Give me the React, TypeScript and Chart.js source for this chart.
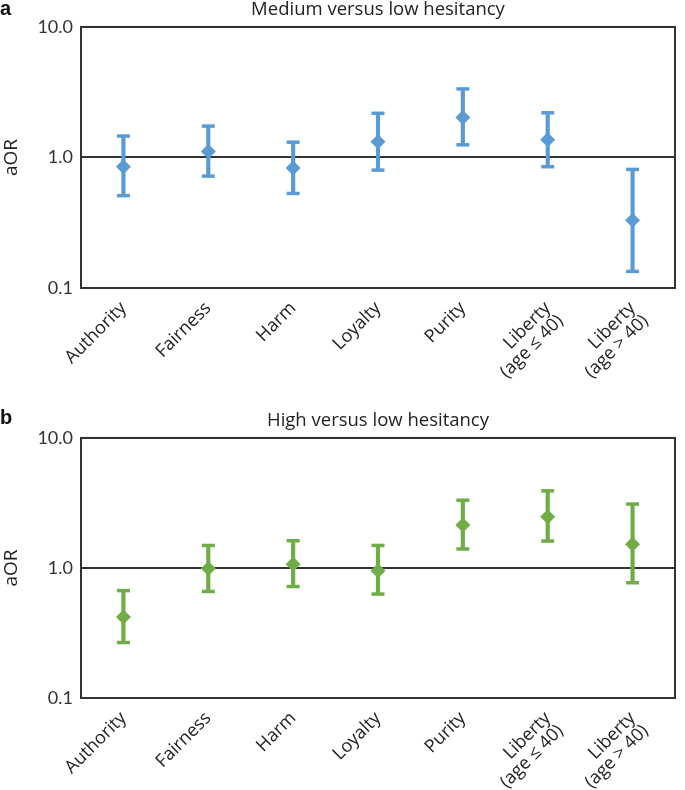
import React, { useEffect, useRef } from "react";
import { Chart, registerables } from "chart.js";

Chart.register(...registerables);

const categories: (string | string[])[] = [
  "Authority",
  "Fairness",
  "Harm",
  "Loyalty",
  "Purity",
  ["Liberty", "(age ≤ 40)"],
  ["Liberty", "(age > 40)"],
];

// panel a: medium vs low hesitancy
const mediumOR = [0.85, 1.11, 0.83, 1.32, 2.02, 1.37, 0.33];
const mediumLow = [0.51, 0.72, 0.53, 0.8, 1.25, 0.85, 0.134];
const mediumHigh = [1.46, 1.74, 1.31, 2.18, 3.35, 2.2, 0.81];

// panel b: high vs low hesitancy
const highOR = [0.42, 0.99, 1.07, 0.95, 2.14, 2.48, 1.52];
const highLow = [0.267, 0.66, 0.72, 0.63, 1.4, 1.61, 0.77];
const highHigh = [0.67, 1.49, 1.62, 1.49, 3.32, 3.92, 3.1];

const yTicks = [0.1, 1, 10];

const FONT = "'Open Sans', Lato, sans-serif";
const TICK_FONT = "Lato, 'Open Sans', sans-serif";
const INK = "#333";

const framePlugin = {
  id: "frame",
  afterDraw(chart: any) {
    const { ctx, chartArea } = chart;
    ctx.save();
    ctx.strokeStyle = INK;
    ctx.lineWidth = 2;
    ctx.strokeRect(
      chartArea.left,
      chartArea.top,
      chartArea.right - chartArea.left,
      chartArea.bottom - chartArea.top
    );
    ctx.restore();
  },
};

type PanelProps = {
  title: string;
  color: string;
  or: number[];
  low: number[];
  high: number[];
  titleTop: number;
  axisHeight: number;
};

const ForestPanel = ({ title, color, or, low, high, titleTop, axisHeight }: PanelProps) => {
  const chartRef = useRef<HTMLCanvasElement | null>(null);
  const chartInstance = useRef<Chart | null>(null);

  useEffect(() => {
    if (chartInstance.current) chartInstance.current.destroy();
    const ctx = chartRef.current?.getContext("2d");
    if (!ctx) return;

    chartInstance.current = new Chart(ctx, {
      type: "bar",
      data: {
        labels: categories as any,
        datasets: [
          {
            type: "line",
            label: "aOR",
            data: or,
            showLine: false,
            pointStyle: "rectRot",
            pointRadius: 7.5,
            pointBorderWidth: 0,
            pointBackgroundColor: color,
            borderColor: color,
            order: 0,
          },
          {
            type: "line",
            label: "upper",
            data: high,
            showLine: false,
            pointStyle: "line",
            pointRadius: 6.5,
            pointBorderWidth: 3.5,
            pointBorderColor: color,
            borderColor: color,
            order: 1,
          },
          {
            type: "line",
            label: "lower",
            data: low,
            showLine: false,
            pointStyle: "line",
            pointRadius: 6.5,
            pointBorderWidth: 3.5,
            pointBorderColor: color,
            borderColor: color,
            order: 1,
          },
          {
            type: "bar",
            label: "CI",
            data: low.map((l, i) => [l, high[i]]) as any,
            backgroundColor: color,
            barThickness: 3.5,
            order: 2,
          },
        ],
      },
      options: {
        responsive: true,
        maintainAspectRatio: false,
        animation: false,
        layout: { padding: { left: 0, right: 1, top: 0, bottom: 0 } },
        plugins: {
          legend: { display: false },
          tooltip: { enabled: false },
          title: {
            display: true,
            text: title,
            fullSize: false,
            color: "#222",
            font: { family: FONT, size: 18.5, weight: "normal", lineHeight: 1.1 },
            padding: { top: titleTop, bottom: 6.6 },
          },
        },
        scales: {
          x: {
            grid: { display: false },
            border: { display: false },
            ticks: {
              color: "#222",
              font: { family: FONT, size: 18, lineHeight: 1.0 },
              minRotation: 45,
              maxRotation: 45,
              autoSkip: false,
              padding: 3,
            },
            afterFit: (scale: any) => {
              scale.height = axisHeight;
            },
          },
          y: {
            type: "logarithmic",
            min: 0.1,
            max: 10,
            afterBuildTicks: (scale: any) => {
              scale.ticks = yTicks.map((v) => ({ value: v }));
            },
            afterFit: (scale: any) => {
              scale.width = 81;
            },
            grid: { color: INK, lineWidth: 2, drawTicks: false },
            border: { display: false },
            ticks: {
              color: INK,
              font: { family: TICK_FONT, size: 18 },
              padding: 8,
              callback: (v: any) => Number(v).toFixed(1),
            },
            title: {
              display: true,
              text: "aOR",
              color: "#222",
              font: { family: FONT, size: 19 },
              padding: { top: 0, bottom: 0 },
            },
          },
        },
      },
      plugins: [framePlugin],
    });

    return () => {
      if (chartInstance.current) chartInstance.current.destroy();
      chartInstance.current = null;
    };
  }, []);

  return <canvas ref={chartRef}></canvas>;
};

const letterStyle: React.CSSProperties = {
  position: "absolute",
  left: 0,
  fontFamily: "'Liberation Sans', Arial, sans-serif",
  fontWeight: "bold",
  fontSize: 20,
  lineHeight: "20px",
  color: "#111",
};

export default function App() {
  return (
    <div style={{ position: "absolute", left: 0, top: 0, width: 685, height: 790, background: "#fff" }}>
      <div style={{ position: "absolute", left: 0, top: 0, width: 685, height: 405 }}>
        <ForestPanel
          title="Medium versus low hesitancy"
          color="#5b9bd5"
          or={mediumOR}
          low={mediumLow}
          high={mediumHigh}
          titleTop={0}
          axisHeight={117}
        />
      </div>
      <div style={{ position: "absolute", left: 0, top: 405, width: 685, height: 385 }}>
        <ForestPanel
          title="High versus low hesitancy"
          color="#70ad47"
          or={highOR}
          low={highLow}
          high={highHigh}
          titleTop={6}
          axisHeight={92}
        />
      </div>
      <div style={{ ...letterStyle, top: -2 }}>a</div>
      <div style={{ ...letterStyle, top: 407 }}>b</div>
    </div>
  );
}
